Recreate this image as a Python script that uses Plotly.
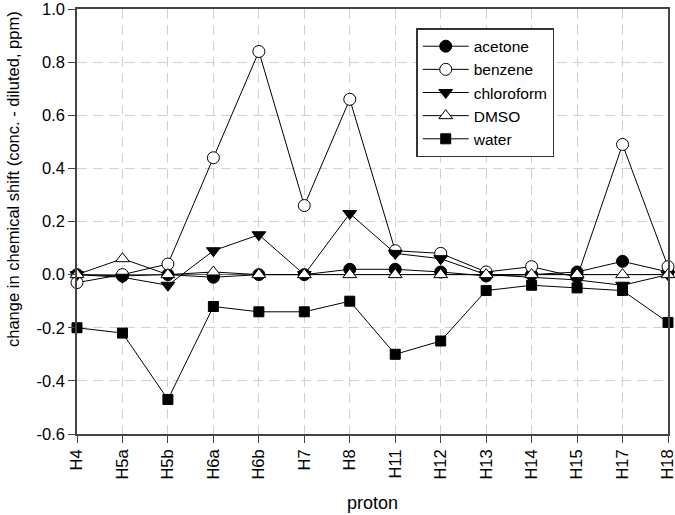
import plotly.graph_objects as go

protons = ["H4", "H5a", "H5b", "H6a", "H6b", "H7", "H8", "H11", "H12", "H13", "H14", "H15", "H17", "H18"]
acetone = [0.0, -0.005, 0.0, -0.01, 0.0, 0.0, 0.02, 0.02, 0.01, -0.005, 0.0, 0.01, 0.05, 0.01]
benzene = [-0.03, 0.0, 0.04, 0.44, 0.84, 0.26, 0.66, 0.09, 0.08, 0.01, 0.03, -0.01, 0.49, 0.03]
chloroform = [0.0, -0.01, -0.04, 0.09, 0.15, 0.0, 0.23, 0.08, 0.06, 0.0, -0.01, -0.02, -0.04, 0.0]
dmso = [0.0, 0.06, 0.0, 0.01, 0.0, 0.0, 0.0, 0.0, 0.0, 0.0, 0.0, 0.0, 0.0, 0.0]
water = [-0.20, -0.22, -0.47, -0.12, -0.14, -0.14, -0.10, -0.30, -0.25, -0.06, -0.04, -0.05, -0.06, -0.18]

y_ticks = [-0.6, -0.4, -0.2, 0.0, 0.2, 0.4, 0.6, 0.8, 1.0]
y_tick_labels = ["-0.6", "-0.4", "-0.2", "0.0", "0.2", "0.4", "0.6", "0.8", "1.0"]
y_title = "change in chemical shift (conc. - diluted, ppm)"
x_title = "proton"

series = [
    ("acetone", acetone, "circle", "black"),
    ("benzene", benzene, "circle", "white"),
    ("chloroform", chloroform, "triangle-down", "black"),
    ("DMSO", dmso, "triangle-up", "white"),
    ("water", water, "square", "black"),
]

x_idx = list(range(len(protons)))
fig = go.Figure()
for name, vals, sym, fill in series:
    fig.add_trace(go.Scatter(
        x=x_idx, y=vals, name=name, mode="lines+markers",
        line=dict(color="black", width=1),
        marker=dict(symbol=sym, size=12 if sym != "square" else 10, color=fill,
                    line=dict(color="black", width=1)),
        cliponaxis=False,
    ))

fig.update_layout(
    width=675, height=515,
    margin=dict(l=77, r=7, t=9, b=81, autoexpand=False),
    paper_bgcolor="white", plot_bgcolor="white",
    font=dict(family="Liberation Sans, Arial, sans-serif", size=16.5, color="black"),
    showlegend=True,
    legend=dict(x=0.574, y=0.955, xanchor="left", yanchor="top",
                bordercolor="#333", borderwidth=1.5, bgcolor="white",
                font=dict(size=15.5), tracegroupgap=0, itemwidth=46),
)
fig.update_xaxes(
    range=[0, len(protons) - 1], tickvals=x_idx, ticktext=protons, tickangle=-90,
    showgrid=True, gridcolor="#d0d0d0", griddash="10px,6px", gridwidth=1,
    showline=True, linecolor="#444", linewidth=1.5, mirror=True,
    ticks="outside", ticklen=7, tickcolor="#444", ticklabeloverflow="allow",
    title=dict(text=x_title, font=dict(size=18), standoff=18),
    zeroline=False,
)
fig.update_yaxes(
    range=[-0.6, 1.0], tickvals=y_ticks, ticktext=y_tick_labels,
    showgrid=True, gridcolor="#d0d0d0", griddash="10px,6px", gridwidth=1,
    showline=True, linecolor="#444", linewidth=1.5, mirror=True,
    ticks="outside", ticklen=7, tickcolor="#444", ticklabeloverflow="allow",
    zeroline=True, zerolinecolor="#666", zerolinewidth=1,
)
fig.add_annotation(
    text=y_title, textangle=-90, showarrow=False,
    xref="paper", yref="paper", x=0, y=0.6, xanchor="center", yanchor="middle",
    xshift=-64, font=dict(size=16.5),
)
fig.write_html("out.html", config={"displayModeBar": False},
               post_script="document.body.style.margin='0px';document.body.style.overflow='hidden';")
